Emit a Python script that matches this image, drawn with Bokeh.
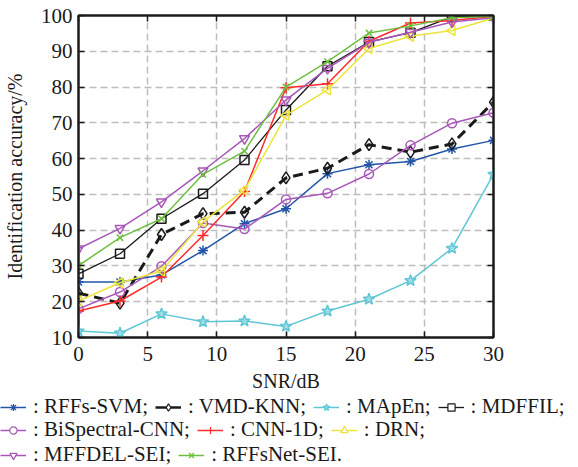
import math
from bokeh.plotting import figure
from bokeh.layouts import column, row
from bokeh.models import (Legend, LegendItem, LinearAxis, FixedTicker, Range1d,
                          CustomJSTickFormatter)
from bokeh.embed import file_html
from bokeh.resources import INLINE

snr = [0, 3, 6, 9, 12, 15, 18, 21, 24, 27, 30]
rffs_svm = [25.5, 25.5, 27.5, 34.3, 41.8, 46.0, 55.8, 58.3, 59.2, 62.7, 65.1]
vmd_knn = [22.4, 19.6, 38.8, 44.6, 45.0, 54.6, 57.3, 63.9, 61.8, 64.1, 75.8]
mapen = [11.8, 11.2, 16.6, 14.4, 14.6, 13.1, 17.4, 20.7, 25.9, 34.9, 55.6]
mdffil = [27.8, 33.4, 43.2, 50.2, 59.6, 73.6, 85.8, 92.6, 95.2, 99.6, 100.0]
bispectral_cnn = [18.0, 22.7, 29.9, 42.0, 40.3, 48.6, 50.3, 55.7, 63.7, 69.9, 72.8]
cnn_1d = [17.4, 20.2, 26.9, 38.5, 50.8, 79.8, 80.9, 92.8, 97.9, 98.6, 99.8]
drn = [20.2, 25.3, 28.6, 42.3, 51.2, 72.1, 79.2, 90.8, 94.2, 95.8, 99.3]
mffdel_sei = [34.8, 40.5, 47.9, 56.6, 65.6, 76.4, 85.2, 92.5, 95.3, 98.2, 99.4]
rffsnet_sei = [30.1, 37.9, 43.2, 55.6, 62.1, 80.0, 87.1, 95.1, 97.1, 99.4, 99.8]

x_ticks = [0, 5, 10, 15, 20, 25, 30]
y_ticks = [10, 20, 30, 40, 50, 60, 70, 80, 90, 100]

FONT = "Liberation Serif"
INK = "#1a1a1a"

p = figure(width=578, height=395, output_backend="svg", toolbar_location=None,
           x_range=Range1d(0, 30), y_range=Range1d(10, 100),
           min_border_left=78, min_border_right=85, min_border_top=15,
           min_border_bottom=58)
p.background_fill_color = "white"
p.border_fill_color = "white"
p.outline_line_color = INK
p.outline_line_width = 2

for ax in (p.xaxis[0], p.yaxis[0]):
    ax.major_label_text_font = FONT
    ax.major_label_text_font_size = "21px"
    ax.major_label_text_color = INK
    ax.axis_label_text_font = FONT
    ax.axis_label_text_font_size = "20px"
    ax.axis_label_text_font_style = "normal"
    ax.axis_label_text_color = INK
    ax.axis_line_color = INK
    ax.axis_line_width = 2
    ax.major_tick_in = 6
    ax.major_tick_out = 0
    ax.major_tick_line_color = INK
    ax.major_tick_line_width = 1.5
    ax.minor_tick_line_color = None

p.xaxis.ticker = FixedTicker(ticks=x_ticks)
p.yaxis.ticker = FixedTicker(ticks=y_ticks)
p.xaxis.axis_label = "SNR/dB"
p.yaxis.axis_label = "Identification accuracy/%"
p.xaxis.major_label_standoff = 9
p.yaxis.major_label_standoff = 6
p.xaxis.axis_label_standoff = 6
p.yaxis.axis_label_standoff = 12

for loc, tk in (("right", y_ticks), ("above", x_ticks)):
    ax = LinearAxis(ticker=FixedTicker(ticks=tk),
                    formatter=CustomJSTickFormatter(code="return ''"),
                    major_label_standoff=0, axis_line_color=INK, axis_line_width=2,
                    major_tick_in=6, major_tick_out=0, major_tick_line_color=INK,
                    major_tick_line_width=1.5, minor_tick_line_color=None)
    p.add_layout(ax, loc)

for g in (p.xgrid[0], p.ygrid[0]):
    g.grid_line_color = "#bdbdbd"
    g.grid_line_width = 1.5
    g.grid_line_dash = "7 4"
p.xgrid.ticker = FixedTicker(ticks=x_ticks)
p.ygrid.ticker = FixedTicker(ticks=y_ticks)

series = [
    ("RFFs-SVM", rffs_svm, "#2355a8", "asterisk", 0, 1.5, "solid", None, 10),
    ("VMD-KNN", vmd_knn, INK, "diamond", 0, 3.0, "10 6", None, 12),
    ("MApEn", mapen, "#5ec6d4", "star", 0, 1.5, "solid", "#9fdde6", 12),
    ("MDFFIL", mdffil, INK, "square", 0, 1.3, "solid", None, 9),
    ("BiSpectral-CNN", bispectral_cnn, "#a857b8", "circle", 0, 1.5, "solid", None, 9),
    ("CNN-1D", cnn_1d, "#ff2a2a", "cross", 0, 1.5, "solid", None, 11),
    ("DRN", drn, "#ece43a", "triangle", math.pi / 2, 1.5, "solid", None, 10),
    ("MFFDEL-SEI", mffdel_sei, "#a857b8", "inverted_triangle", 0, 1.5, "solid", None, 10),
    ("RFFsNet-SEI", rffsnet_sei, "#6fbf3f", "x", 0, 1.5, "solid", None, 9),
]

# legend panel: a separate figure whose ranges keep the sample glyphs off-view
lf = figure(width=578, height=72, output_backend="svg", toolbar_location=None,
            x_range=Range1d(1000, 1001), y_range=Range1d(1000, 1001),
            x_axis_location=None, y_axis_location=None,
            min_border=0, min_border_left=0, min_border_right=0,
            min_border_top=0, min_border_bottom=0)
lf.grid.visible = False
lf.outline_line_color = None
lf.background_fill_color = "white"
lf.border_fill_color = "white"

unaligned = True
try:
    p.frame_align = False
    lf.frame_align = False
except Exception:
    unaligned = False

items = {}
for name, vals, col, mk, ang, lw, dash, fill, sz in series:
    p.line(snr, vals, line_color=col, line_width=lw, line_dash=dash)
    p.scatter(snr, vals, marker=mk, angle=ang, size=sz, line_color=col,
              line_width=1.5, fill_color=fill, fill_alpha=0.8 if fill else 1.0)
    r1 = lf.line(snr, vals, line_color=col, line_width=min(lw, 2.5), line_dash="solid")
    r2 = lf.scatter(snr, vals, marker=mk, angle=ang, size=sz, line_color=col,
                    line_width=1.2, fill_color=fill if fill else "white",
                    fill_alpha=0.8 if fill else 1.0)
    items[name] = [r1, r2]

rows = [
    ["RFFs-SVM", "VMD-KNN", "MApEn", "MDFFIL"],
    ["BiSpectral-CNN", "CNN-1D", "DRN"],
    ["MFFDEL-SEI", "RFFsNet-SEI"],
]
row_offsets = [48, 25, 0]
for i, names in enumerate(rows):
    leg_items = []
    for j, name in enumerate(names):
        end = ";" if not (i == len(rows) - 1 and j == len(names) - 1) else "."
        leg_items.append(LegendItem(label=": " + name + end, renderers=items[name]))
    leg = Legend(items=leg_items, orientation="horizontal", location=(0, row_offsets[i]),
                 label_text_font=FONT, label_text_font_size="21px",
                 label_text_color=INK, glyph_width=26, glyph_height=18,
                 label_standoff=7, spacing=7, padding=1, margin=0,
                 border_line_color=None, background_fill_alpha=0)
    lf.add_layout(leg, "center")

if unaligned:
    layout = column(p, lf, spacing=0)
else:
    layout = column(p, row(lf), spacing=0)
open("out.html", "w").write(file_html(layout, INLINE))
